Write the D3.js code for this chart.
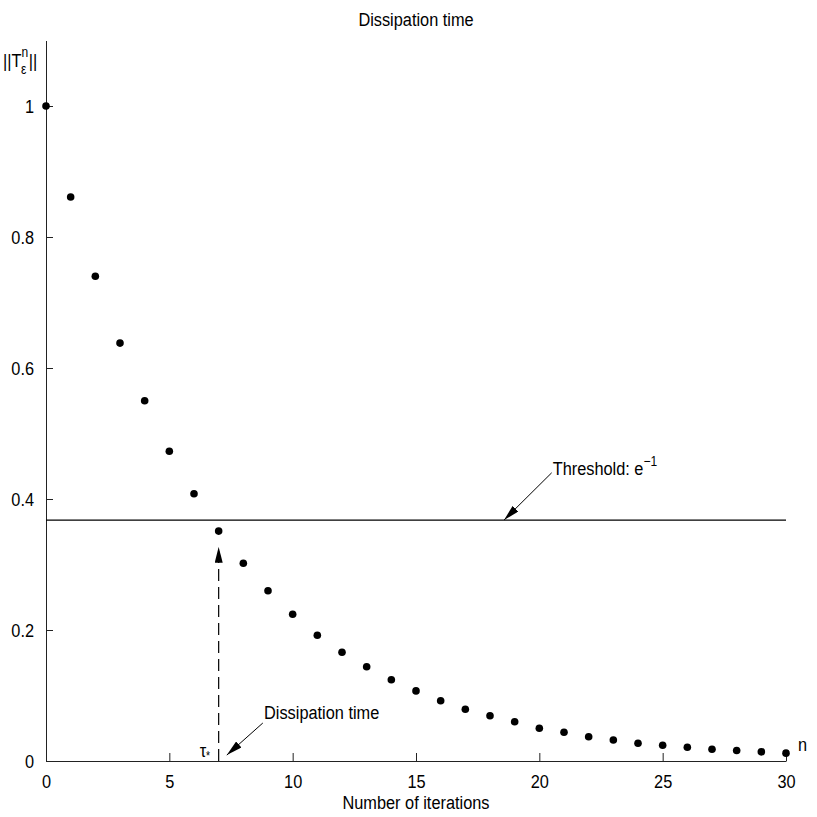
<!DOCTYPE html>
<html>
<head>
<meta charset="utf-8">
<script src="https://cdn.jsdelivr.net/npm/d3@7"></script>
<style>
  body { margin: 0; background: #fff; }
  svg text { font-family: "Liberation Sans", Arial, sans-serif; fill: #000; }
</style>
</head>
<body>
<svg class="dissipation"></svg>
<script>
// iteration index n
const iterations = d3.range(0, 31)
// ||T^n_eps||
const norms = [1.0, 0.861, 0.740, 0.638, 0.550, 0.473, 0.408, 0.351, 0.302, 0.260,
  0.224, 0.192, 0.166, 0.144, 0.124, 0.107, 0.092, 0.079, 0.069, 0.060,
  0.050, 0.044, 0.037, 0.032, 0.027, 0.024, 0.021, 0.018, 0.016, 0.014, 0.012]
const xTicks = [0, 5, 10, 15, 20, 25, 30]
const yTicks = [0, 0.2, 0.4, 0.6, 0.8, 1]
const threshold = Math.exp(-1)
const dissipationTime = 7

const width = 817
const height = 817
const margin = { top: 40.5, right: 31, bottom: 56, left: 46 }
const squeeze = 0.86 // the original uses a condensed Helvetica

const svg = d3.select('svg.dissipation').attr('width', width).attr('height', height)

const x = d3.scaleLinear().domain([0, 30]).range([margin.left, width - margin.right])
const y = d3.scaleLinear().domain([0, 1.1]).range([height - margin.bottom, margin.top])

// arrow head
svg.append('defs').append('marker')
  .attr('id', 'head')
  .attr('viewBox', '0 0 16 8')
  .attr('refX', 16).attr('refY', 4)
  .attr('markerWidth', 16).attr('markerHeight', 8)
  .attr('markerUnits', 'userSpaceOnUse')
  .attr('orient', 'auto')
  .append('path').attr('d', 'M0,0L16,4L0,8Z').attr('fill', '#000')

// x axis - ticks point inward
const xAxis = svg.append('g')
  .attr('transform', `translate(0, ${y(0)})`)
  .call(d3.axisBottom(x).tickValues(xTicks).tickSize(-8).tickSizeOuter(0).tickPadding(14))
xAxis.selectAll('text').attr('font-size', 19).attr('dy', '0.71em')

// y axis
const yAxis = svg.append('g')
  .attr('transform', `translate(${x(0)}, 0)`)
  .call(d3.axisLeft(y).tickValues(yTicks).tickSize(-7).tickSizeOuter(0).tickPadding(12).tickFormat(d3.format('')))
yAxis.selectAll('text').attr('font-size', 19)
svg.selectAll('.domain, .tick line').attr('stroke', '#222')

// threshold line
svg.append('line')
  .attr('x1', x(0)).attr('x2', x(30))
  .attr('y1', y(threshold)).attr('y2', y(threshold))
  .attr('stroke', '#000').attr('stroke-width', 1.2)

// dashed arrow up from tau*
svg.append('line')
  .attr('x1', x(dissipationTime)).attr('x2', x(dissipationTime))
  .attr('y1', y(0)).attr('y2', y(0.327))
  .attr('stroke', '#000').attr('stroke-width', 1.2)
  .attr('stroke-dasharray', '12,6')
  .attr('marker-end', 'url(#head)')

// points
svg.append('g').selectAll('circle')
  .data(iterations)
  .enter()
  .append('circle')
  .attr('cx', d => x(d))
  .attr('cy', d => y(norms[d]))
  .attr('r', 3.8)
  .attr('fill', '#000')

// threshold annotation
svg.append('line')
  .attr('x1', x(20.5)).attr('y1', y(0.44))
  .attr('x2', x(18.57)).attr('y2', y(threshold))
  .attr('stroke', '#000').attr('stroke-width', 1)
  .attr('marker-end', 'url(#head)')
const thr = svg.append('text')
  .attr('x', x(20.5) + 1).attr('y', y(0.437))
  .attr('font-size', 19)
thr.append('tspan').text('Threshold: e')
thr.append('tspan').attr('dy', -9).attr('font-size', 14).text('\u22121')

// dissipation time annotation
svg.append('line')
  .attr('x1', x(8.79)).attr('y1', y(0.058))
  .attr('x2', x(7.33)).attr('y2', y(0.009))
  .attr('stroke', '#000').attr('stroke-width', 1)
  .attr('marker-end', 'url(#head)')
svg.append('text')
  .attr('x', x(8.84)).attr('y', y(0.064))
  .attr('font-size', 19)
  .text('Dissipation time')

// tau*
const tau = svg.append('text')
  .attr('x', x(dissipationTime) - 19).attr('y', y(0) - 4)
  .attr('font-size', 19)
tau.append('tspan').text('\u03c4')
tau.append('tspan').attr('dy', 3).attr('font-size', 12).text('*')

// n label at end of x axis
svg.append('text')
  .attr('x', x(30) + 12).attr('y', y(0) - 10)
  .attr('font-size', 19)
  .text('n')

// label bottom
svg.append('text')
  .attr('x', 416).attr('y', 809)
  .attr('text-anchor', 'middle')
  .attr('font-size', 19)
  .text('Number of iterations')

// label top
svg.append('text')
  .attr('x', 416).attr('y', 26)
  .attr('text-anchor', 'middle')
  .attr('font-size', 19)
  .text('Dissipation time')

// y label ||T^n_eps||
const yl = svg.append('text').attr('x', 3).attr('y', 67).attr('font-size', 19)
yl.append('tspan').text('||T')
yl.append('tspan').attr('dy', -10).attr('font-size', 14).text('n')
yl.append('tspan').attr('x', 24).attr('dy', 17).attr('font-size', 14).text('\u03b5')
yl.append('tspan').attr('x', 33).attr('dy', -7).text('||')

// squeeze every text horizontally round its anchor x
svg.selectAll('text').each(function () {
  const ax = +(this.getAttribute('x') || 0)
  d3.select(this).attr('transform', `translate(${ax},0) scale(${squeeze},1) translate(${-ax},0)`)
})
</script>
</body>
</html>
